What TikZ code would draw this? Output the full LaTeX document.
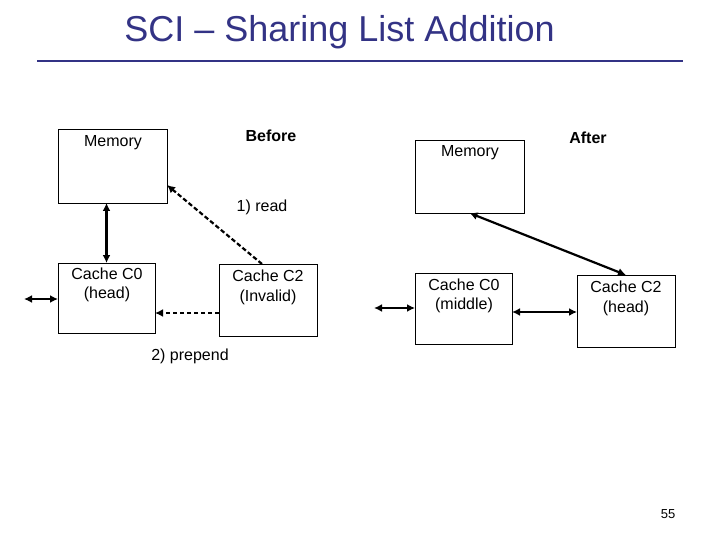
\documentclass[tikz,border=0pt]{standalone}
\usepackage{fontspec}
\setmainfont{Liberation Sans}
\usetikzlibrary{arrows.meta}
\definecolor{titleblue}{RGB}{51,51,133}
\begin{document}
\begin{tikzpicture}[x=1pt,y=-1pt,
  box/.style={draw=black,line width=0.9pt,inner sep=0pt,outer sep=0pt},
  lbl/.style={font=\fontsize{16}{19.5}\selectfont,align=center,inner sep=0pt},
  conn/.style={line width=2.2pt,{Latex[length=8pt,width=8pt]}-{Latex[length=8pt,width=8pt]}},
  dconn/.style={line width=2.2pt,dash pattern=on 4.5pt off 2.5pt,-{Latex[length=8pt,width=8pt]}}]
\useasboundingbox (0,0) rectangle (720,540);
% title
\node[font=\fontsize{36}{42}\selectfont,text=titleblue,inner sep=0pt] (title) at (339.5,32) {SCI – Sharing List Addition};
\draw[titleblue,line width=2.5pt] (37,61) -- (683,61);
% before
\node[box,minimum width=109pt,minimum height=74pt] (memB) at (112.5,166) {};
\node[box,minimum width=97pt,minimum height=70pt] (c0B) at (106.5,298) {};
\node[box,minimum width=98pt,minimum height=72pt] (c2B) at (268,300) {};
\node[lbl] (tmemB) at (113,143) {Memory};
\node[lbl] (tc0B) at (107,285) {Cache C0\\(head)};
\node[lbl] (tc2B) at (268,287.5) {Cache C2\\(Invalid)};
\node[lbl,font=\fontsize{16}{19.5}\selectfont\bfseries] (before) at (271,136) {Before};
\node[lbl] (read) at (262,207) {1) read};
\node[lbl] (prep) at (190,356) {2) prepend};
\draw[conn] (c0B.north) -- (c0B.north |- memB.south);
\coordinate (lb) at (24,299);
\draw[conn] (lb) -- (c0B.west |- lb);
\coordinate (pp) at (0,313);
\draw[dconn] (c2B.west |- pp) -- (c0B.east |- pp);
\draw[dconn] ([xshift=-6pt]c2B.north) -- ([yshift=-19pt]memB.east);
% after
\node[box,minimum width=109pt,minimum height=73pt] (memA) at (469.5,176.5) {};
\node[box,minimum width=97pt,minimum height=71pt] (c0A) at (463.5,308.5) {};
\node[box,minimum width=98pt,minimum height=72pt] (c2A) at (626,311) {};
\node[lbl] (tmemA) at (470,153) {Memory};
\node[lbl] (tc0A) at (464,296) {Cache C0\\(middle)};
\node[lbl] (tc2A) at (626,298.5) {Cache C2\\(head)};
\node[lbl,font=\fontsize{16}{19.5}\selectfont\bfseries] (after) at (588,138) {After};
\draw[conn] (memA.south) -- (c2A.north);
\coordinate (la) at (374,308);
\draw[conn] (la) -- (c0A.west |- la);
\coordinate (mc) at (0,312);
\draw[conn] (c0A.east |- mc) -- (c2A.west |- mc);
\node[font=\fontsize{13}{15}\selectfont,inner sep=0pt] (pnum) at (668,514) {55};
\end{tikzpicture}
\end{document}
